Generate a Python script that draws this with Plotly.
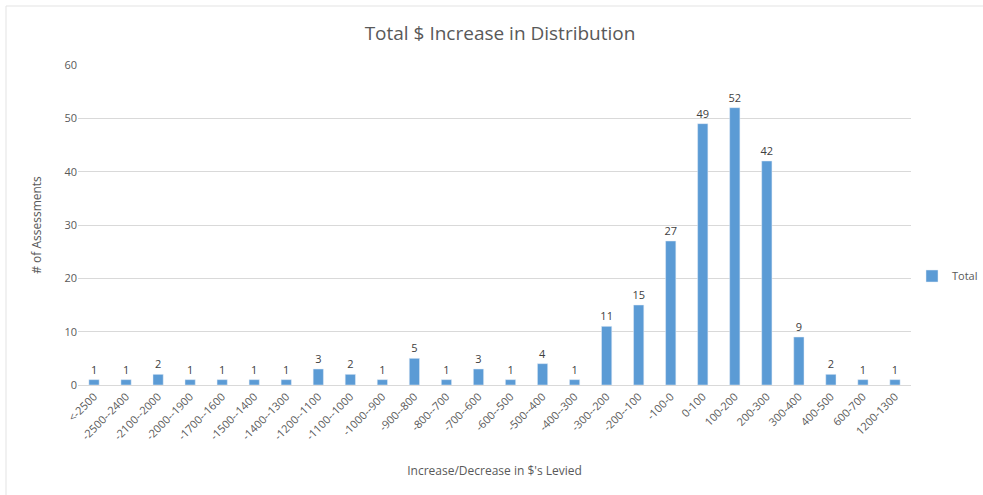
import plotly.graph_objects as go

categories = ["<-2500", "-2500--2400", "-2100--2000", "-2000--1900", "-1700--1600",
              "-1500--1400", "-1400--1300", "-1200--1100", "-1100--1000", "-1000--900",
              "-900--800", "-800--700", "-700--600", "-600--500", "-500--400",
              "-400--300", "-300--200", "-200--100", "-100-0", "0-100",
              "100-200", "200-300", "300-400", "400-500", "600-700", "1200-1300"]
values = [1, 1, 2, 1, 1, 1, 1, 3, 2, 1, 5, 1, 3, 1, 4, 1, 11, 15, 27, 49, 52, 42, 9, 2, 1, 1]
y_ticks = [0, 10, 20, 30, 40, 50, 60]

txt = "#595959"
font = "Open Sans, Liberation Sans, sans-serif"

W, H = 983, 495
L, T, R, B = 78, 65, 72, 110
pw, ph = W - L - R, H - T - B

fig = go.Figure(go.Bar(
    x=categories, y=values, name="Total",
    marker=dict(color="#5B9BD5"),
    text=values, textposition="outside",
    textfont=dict(size=11, color="#404040", family=font),
    constraintext="none",
    cliponaxis=False,
))

fig.update_layout(
    width=W, height=H,
    margin=dict(l=L, r=R, t=T, b=B, autoexpand=False),
    paper_bgcolor="white", plot_bgcolor="white",
    font=dict(family=font, color=txt, size=11),
    title=dict(text="Total $ Increase in Distribution", x=(500 - L) / pw, xref="paper", xanchor="center",
               y=1 - 33 / H, yanchor="middle", yref="container",
               font=dict(size=19, color=txt, family=font)),
    bargap=0.68,
    showlegend=True,
    legend=dict(x=(912 - L) / pw, y=(T + ph - 276) / ph, xanchor="left", yanchor="middle",
                font=dict(size=11, color=txt), itemwidth=30),
    xaxis=dict(tickangle=-45, tickfont=dict(size=11, color=txt), automargin=False,
               showline=True, linecolor="#D9D9D9", ticks="",
               title=dict(text="Increase/Decrease in $'s Levied", font=dict(size=12, color=txt), standoff=24)),
    yaxis=dict(range=[0, 60], tickvals=y_ticks, showgrid=True, gridcolor="#D9D9D9", automargin=False,
               zeroline=False, ticks="", tickfont=dict(size=11, color=txt),
               title=dict(text="# of Assessments", font=dict(size=12, color=txt), standoff=20)),
)

fig.add_shape(type="rect", xref="paper", yref="paper",
              x0=(6 - L) / pw, x1=(W + 5 - L) / pw,
              y0=-(H + 5 - (T + ph)) / ph, y1=(T + ph - 6) / ph,
              line=dict(color="#E3E3E3", width=1), fillcolor="rgba(0,0,0,0)", layer="below")

fig.write_html("out.html", config={"displayModeBar": False},
               post_script="document.body.style.margin='0';document.body.style.overflow='hidden';")
